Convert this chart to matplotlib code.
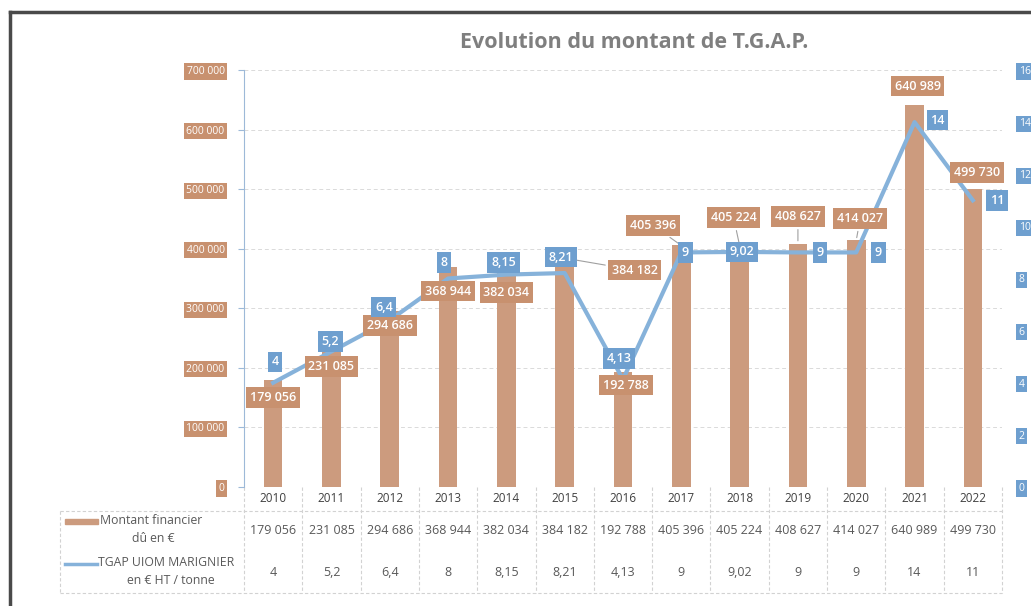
import matplotlib.pyplot as plt
from matplotlib.lines import Line2D
import numpy as np

# donnees
annees = ['2010', '2011', '2012', '2013', '2014', '2015', '2016',
          '2017', '2018', '2019', '2020', '2021', '2022']
montant = [179056, 231085, 294686, 368944, 382034, 384182, 192788,
           405396, 405224, 408627, 414027, 640989, 499730]
tgap = [4, 5.2, 6.4, 8, 8.15, 8.21, 4.13, 9, 9.02, 9, 9, 14, 11]
yticks_g = [0, 100000, 200000, 300000, 400000, 500000, 600000, 700000]
yticks_d = [0, 2, 4, 6, 8, 10, 12, 14, 16]

# decalages des etiquettes (pixels) : (dx, dy)
off_bar = [(0, -17), (0, -17), (0, -14), (0, -24), (0, -33), (70, -12), (3, -13),
           (-28, 20), (-6, 28), (0, 27), (4, 22), (3, 19), (4, 17)]
off_line = [(2, 21), (-1, 10), (-6, 13), (-4, 16), (-3, 12), (-4, 16), (-4, 21),
            (4, 0), (2, 0), (22, 0), (22, 0), (23, 2), (24, 0)]
leader_bar = [5, 7, 8, 9, 10]

C_BAR = '#CC9B7E'
C_BAR_LBL = '#C8916F'
C_LINE = '#86B2DA'
C_LINE_LBL = '#6E9FCF'
C_TXT = '#595959'

plt.rcParams['font.family'] = ['Open Sans', 'DejaVu Sans']


def fr(v):
    if isinstance(v, int) or float(v).is_integer() and v > 100:
        return f"{int(v):,}".replace(',', ' ')
    s = f"{v:g}"
    return s.replace('.', ',')


W, H = 1031, 606
fig = plt.figure(figsize=(W / 100, H / 100), dpi=100)
x_left, x_right, y_top, y_bot = 244, 1002, 70, 487
ax = fig.add_axes([x_left / W, 1 - y_bot / H, (x_right - x_left) / W, (y_bot - y_top) / H])
ax2 = ax.twinx()

x = np.arange(len(annees))
ax.bar(x, montant, width=0.32, color=C_BAR, zorder=2)
ax.set_xlim(-0.5, len(annees) - 0.5)
ax.set_ylim(0, 700000)
ax.set_yticks(yticks_g)
ax.set_yticklabels([fr(v) for v in yticks_g], fontsize=7.5, color='white')
for lab in ax.get_yticklabels():
    lab.set_bbox(dict(boxstyle='square,pad=0.25', fc=C_BAR_LBL, ec='none'))
ax.tick_params(axis='y', length=4, color='#9DB9D8', pad=10)
ax.set_xticks([])
ax.yaxis.grid(True, color='#DADADA', ls=(0, (4, 3)), lw=0.7)
ax.set_axisbelow(True)
for s in ['top', 'right', 'bottom']:
    ax.spines[s].set_visible(False)
ax.spines['left'].set_color('#9DB9D8')

ax2.plot(x, tgap, color=C_LINE, lw=3, zorder=3)
ax2.set_ylim(0, 16)
ax2.set_yticks(yticks_d)
ax2.set_yticklabels([str(v) for v in yticks_d], fontsize=7.5, color='white')
for lab in ax2.get_yticklabels():
    lab.set_bbox(dict(boxstyle='square,pad=0.25', fc=C_LINE_LBL, ec='none'))
ax2.tick_params(axis='y', length=0, pad=12)
for s in ax2.spines.values():
    s.set_visible(False)

k = 0.72  # pixels -> points
for i, v in enumerate(montant):
    dx, dy = off_bar[i]
    ap = dict(arrowstyle='-', color='#A0A0A0', lw=0.8) if i in leader_bar else None
    ax2.annotate(fr(v), (i, v), xycoords=ax.transData, xytext=(dx * k, dy * k),
                 textcoords='offset points', ha='center', va='center', fontsize=9,
                 color='white', fontweight='semibold',
                 bbox=dict(boxstyle='square,pad=0.3', fc=C_BAR_LBL, ec='none'),
                 arrowprops=ap, zorder=4, annotation_clip=False)
for i, v in enumerate(tgap):
    dx, dy = off_line[i]
    ax2.annotate(fr(v), (i, v), xytext=(dx * k, dy * k), textcoords='offset points',
                 ha='center', va='center', fontsize=9, color='white', fontweight='semibold',
                 bbox=dict(boxstyle='square,pad=0.3', fc=C_LINE_LBL, ec='none'),
                 zorder=5, annotation_clip=False)

# tableau sous le graphique
tr = ax.get_xaxis_transform()


def yf(p):
    return (y_bot - p) / (y_bot - y_top)


grid_kw = dict(color='#D2D2D2', lw=0.8, ls=(0, (3, 2)), clip_on=False, transform=tr)
xl = (60 - x_left) / (x_right - x_left) * len(annees) - 0.5
for py in [511, 593]:
    ax.add_line(Line2D([xl, len(annees) - 0.5], [yf(py)] * 2, **grid_kw))
for b in np.arange(-0.5, len(annees), 1.0):
    ax.add_line(Line2D([b, b], [yf(487), yf(593)], **grid_kw))
ax.add_line(Line2D([xl, xl], [yf(511), yf(593)], **grid_kw))

for i in range(len(annees)):
    ax.text(i, yf(498), annees[i], transform=tr, ha='center', va='center', fontsize=8.5, color='#404040')
    ax.text(i, yf(530), fr(montant[i]), transform=tr, ha='center', va='center', fontsize=9, color=C_TXT)
    ax.text(i, yf(572), fr(tgap[i]), transform=tr, ha='center', va='center', fontsize=9, color=C_TXT)

fig.add_artist(plt.Rectangle((65 / W, 1 - 524 / H), 33 / W, 5 / H, color=C_BAR))
fig.text(100 / W, 1 - 521 / H, 'Montant financier', ha='left', va='center', fontsize=8.8, color=C_TXT)
fig.text(153 / W, 1 - 539 / H, 'dû en €', ha='center', va='center', fontsize=8.8, color=C_TXT)
fig.add_artist(Line2D([65 / W, 97 / W], [1 - 564 / H] * 2, color=C_LINE, lw=2.5))
fig.text(98 / W, 1 - 563 / H, 'TGAP UIOM MARIGNIER', ha='left', va='center', fontsize=8.8, color=C_TXT)
fig.text(171 / W, 1 - 581 / H, 'en € HT / tonne', ha='center', va='center', fontsize=8.8, color=C_TXT)

fig.text(634 / W, 1 - 42 / H, 'Evolution du montant de T.G.A.P.', ha='center', va='center',
         fontsize=15.5, fontweight='bold', color='#7F7F7F')

# cadre
fig.add_artist(Line2D([10 / W, 1], [1 - 12 / H] * 2, color='#4A4A4A', lw=2.5))
fig.add_artist(Line2D([10 / W, 10 / W], [0, 1 - 12 / H], color='#4A4A4A', lw=2.5))

fig.savefig('out.png', dpi=100)
